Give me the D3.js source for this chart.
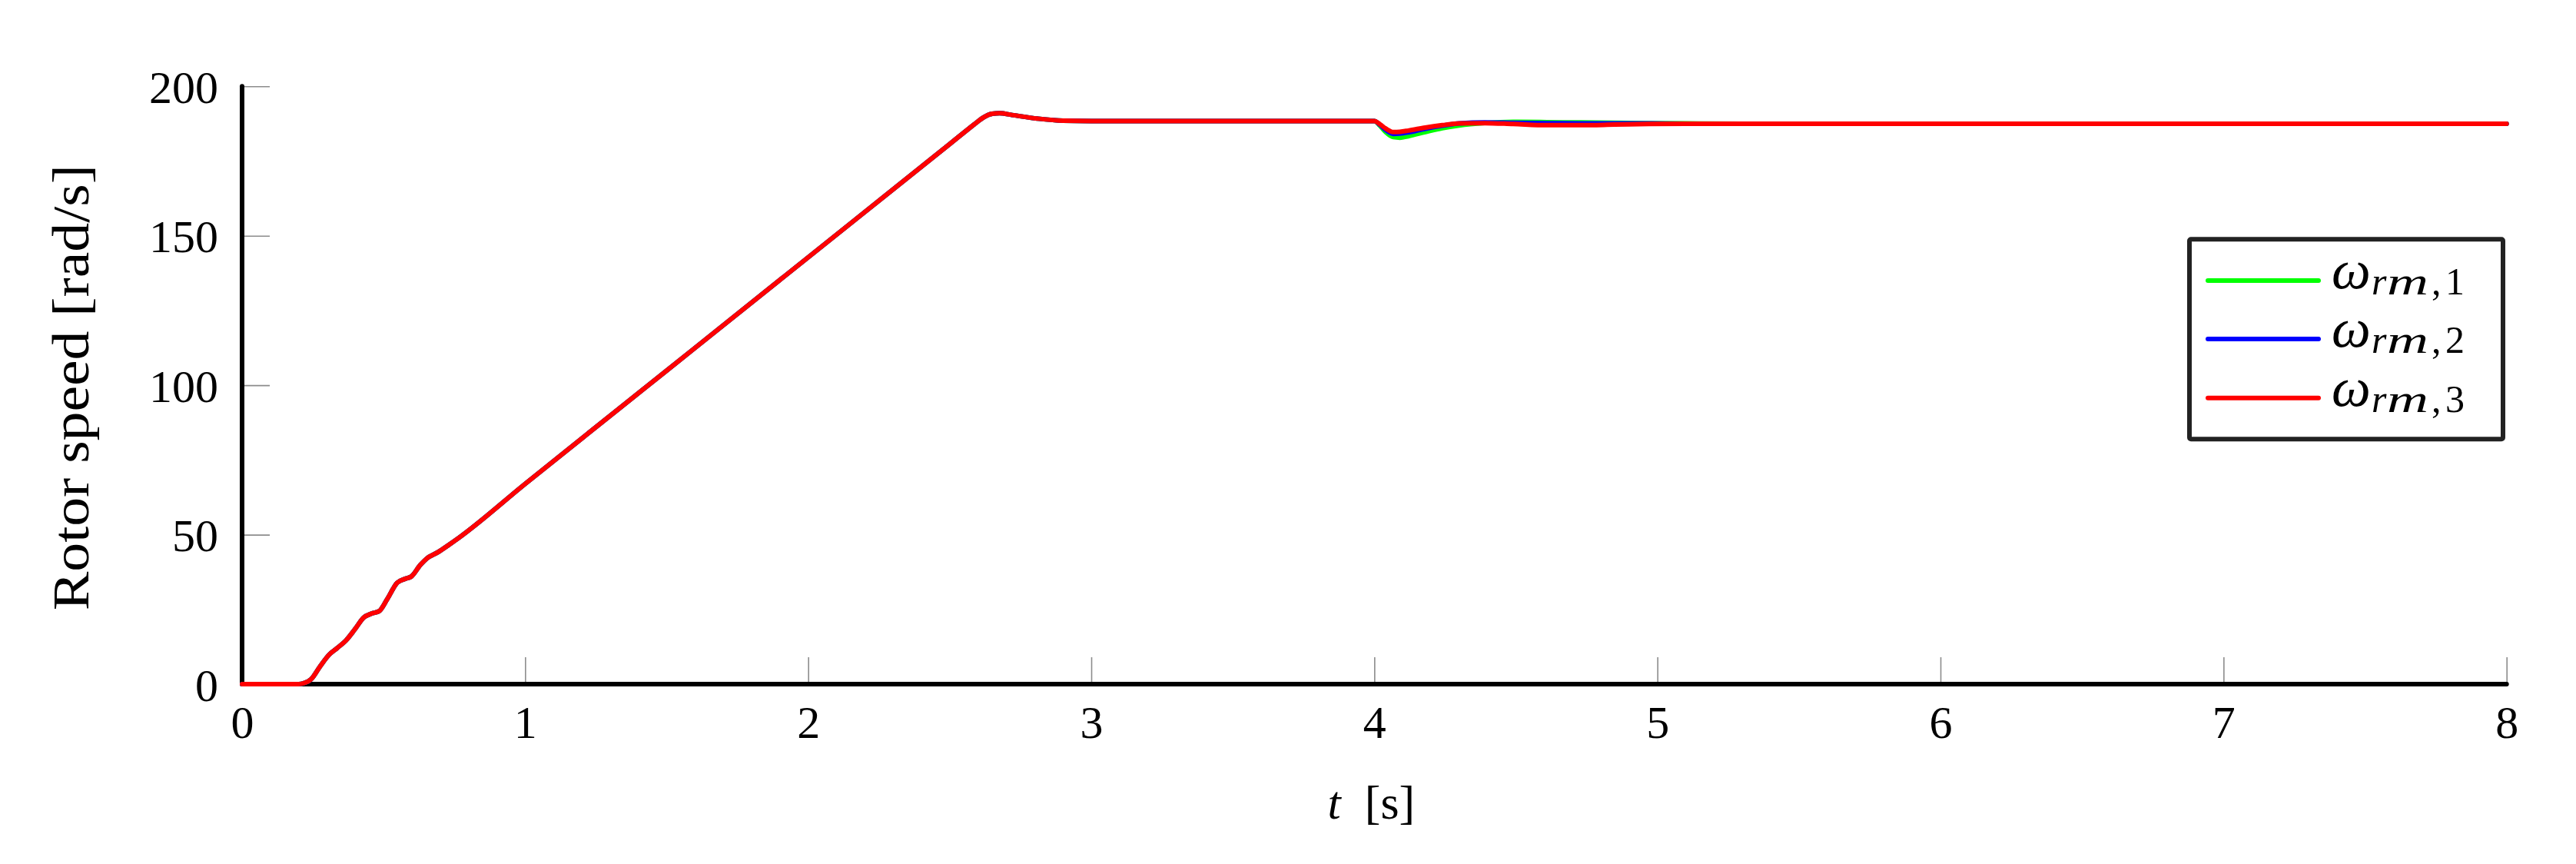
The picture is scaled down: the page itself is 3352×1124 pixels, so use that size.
<!DOCTYPE html>
<html>
<head>
<meta charset="utf-8">
<script src="https://cdn.jsdelivr.net/npm/d3@7"></script>
<style>
  html, body { margin: 0; padding: 0; background: #fff; }
  svg { display: block; }
  text { font-family: "Liberation Serif", "Times New Roman", serif; fill: #000; }
</style>
</head>
<body>
<svg id="chart" width="3352" height="1124"></svg>
<script>
// ---------- data ----------
// time points shared by all series before the load step at t = 4 s
const timeStart = [0, 0.2, 0.217, 0.2445, 0.276, 0.308, 0.335, 0.367, 0.399, 0.43, 0.457, 0.484,
  0.512, 0.548, 0.575, 0.598, 0.63, 0.652, 0.693, 0.729, 0.765, 1.0, 1.5, 2.0, 2.5, 2.58, 2.6, 2.621,
  2.65, 2.676, 2.72, 2.81, 2.9, 3.0, 3.5];
const speedStart = [0, 0, 0.26, 1.7, 6.0, 9.9, 12.0, 14.6, 18.4, 22.3, 23.6, 24.4,
  28.3, 33.9, 35.2, 36.0, 39.9, 42.0, 44.2, 46.5, 48.9, 67.0, 104.9, 142.8, 180.7, 186.8, 188.3, 189.7,
  190.8, 191.0, 190.4, 189.2, 188.5, 188.4, 188.4];
// time points after the load step
const timeEnd = [4.0, 4.02, 4.04, 4.067, 4.09, 4.12, 4.18, 4.24, 4.3, 4.39, 4.49, 4.61,
  4.73, 4.85, 4.97, 5.1, 5.3, 6, 7, 8];
const speedEnd1 = [188.4, 186.8, 184.7, 183.0, 182.8, 183.3, 184.7, 186.0, 186.9, 187.7, 188.1, 188.0,
  187.9, 187.8, 187.7, 187.6, 187.5, 187.5, 187.5, 187.5];
const speedEnd2 = [188.4, 187.1, 185.4, 184.1, 184.2, 184.6, 185.8, 186.8, 187.6, 187.9, 187.8, 187.7,
  187.6, 187.6, 187.6, 187.5, 187.5, 187.5, 187.5, 187.5];
const speedEnd3 = [188.4, 187.3, 185.9, 184.7, 184.8, 185.2, 186.2, 187.0, 187.6, 187.7, 187.4, 187.0,
  187.0, 187.2, 187.4, 187.5, 187.5, 187.5, 187.5, 187.5];

const seriesNames = ["1", "2", "3"];
const seriesColors = ["#00ff00", "#0000ff", "#ff0000"];
const xTicks = [0, 1, 2, 3, 4, 5, 6, 7, 8];
const yTicks = [0, 50, 100, 150, 200];
const xLabel = "[s]";
const yLabel = "Rotor speed [rad/s]";

// ---------- build ----------
const time = timeStart.concat(timeEnd);
const seriesValues = [speedEnd1, speedEnd2, speedEnd3].map(e => speedStart.concat(e));
const series = seriesNames.map((n, i) => ({
  name: n, color: seriesColors[i],
  points: time.map((t, j) => ({ t, v: seriesValues[i][j] }))
}));

const svg = d3.select("#chart");
const pLeft = 315, pRight = 3261.7, pTop = 112.3, pBottom = 890;
const x = d3.scaleLinear().domain([0, 8]).range([pLeft, pRight]);
const y = d3.scaleLinear().domain([0, 200]).range([pBottom, pTop]);

const tickColor = "#8c8c8c";

// x axis
const gx = svg.append("g").attr("transform", `translate(0,${pBottom})`)
  .call(d3.axisBottom(x).tickValues(xTicks).tickFormat(d3.format("d")).tickSizeInner(-35).tickSizeOuter(0));
gx.select(".domain").remove();
gx.selectAll(".tick line").attr("stroke", tickColor).attr("stroke-width", 1.6);
gx.selectAll(".tick text").attr("y", 50).attr("dy", "0.33em")
  .attr("font-size", 60).attr("font-family", "Liberation Serif");

// y axis
const gy = svg.append("g").attr("transform", `translate(${pLeft},0)`)
  .call(d3.axisLeft(y).tickValues(yTicks).tickFormat(d3.format("d")).tickSizeInner(-36).tickSizeOuter(0));
gy.select(".domain").remove();
gy.selectAll(".tick line").attr("stroke", tickColor).attr("stroke-width", 1.6);
gy.selectAll(".tick text").attr("x", -31).attr("dy", "0.35em")
  .attr("font-size", 60).attr("font-family", "Liberation Serif");

// thick axis lines
svg.append("line").attr("x1", pLeft).attr("x2", pLeft).attr("y1", y(200)).attr("y2", y(0))
  .attr("stroke", "#000").attr("stroke-width", 6).attr("stroke-linecap", "round");
svg.append("line").attr("x1", x(0)).attr("x2", x(8)).attr("y1", y(0)).attr("y2", y(0))
  .attr("stroke", "#000").attr("stroke-width", 6).attr("stroke-linecap", "round");

// lines
const line = d3.line().x(d => x(d.t)).y(d => y(d.v)).curve(d3.curveMonotoneX);
svg.append("g").selectAll("path").data(series).join("path")
  .attr("d", d => line(d.points))
  .attr("fill", "none")
  .attr("stroke", d => d.color)
  .attr("stroke-width", 6)
  .attr("stroke-linejoin", "round")
  .attr("stroke-linecap", "round");

// axis labels
const xl = svg.append("text").attr("x", (pLeft + pRight) / 2 - 4).attr("y", 1065)
  .attr("text-anchor", "middle").attr("font-size", 62);
xl.append("tspan").attr("font-style", "italic").text("t");
xl.append("tspan").text("\u00a0\u00a0" + xLabel);

svg.append("text")
  .attr("transform", `translate(115,${(pTop + pBottom) / 2 + 3}) rotate(-90)`)
  .attr("text-anchor", "middle").attr("font-size", 68)
  .attr("textLength", 580).attr("lengthAdjust", "spacingAndGlyphs")
  .text(yLabel);

// legend
const lg = svg.append("g");
lg.append("rect").attr("x", 2849).attr("y", 311.3).attr("width", 408).attr("height", 260)
  .attr("fill", "#fff").attr("stroke", "#222").attr("stroke-width", 6).attr("rx", 2);
const rowY = [365, 441, 517.7];
series.forEach((s, i) => {
  const yy = rowY[i];
  lg.append("line").attr("x1", 2873).attr("x2", 3017).attr("y1", yy).attr("y2", yy)
    .attr("stroke", s.color).attr("stroke-width", 6).attr("stroke-linecap", "round");
  const t = lg.append("text").attr("y", yy + 10);
  t.append("tspan").attr("x", 3034).attr("font-style", "italic").attr("font-size", 72).text("\u03c9");
  t.append("tspan").attr("x", 3086).attr("y", yy + 18).attr("font-style", "italic").attr("font-size", 50).text("r");
  t.append("tspan").attr("x", 3106).attr("y", yy + 18).attr("font-style", "italic").attr("font-size", 50)
    .attr("textLength", 54).attr("lengthAdjust", "spacingAndGlyphs").text("m");
  t.append("tspan").attr("x", 3164).attr("y", yy + 18).attr("font-size", 50).text(",");
  t.append("tspan").attr("x", 3182).attr("y", yy + 18).attr("font-size", 50).text(s.name);
});
</script>
</body>
</html>
